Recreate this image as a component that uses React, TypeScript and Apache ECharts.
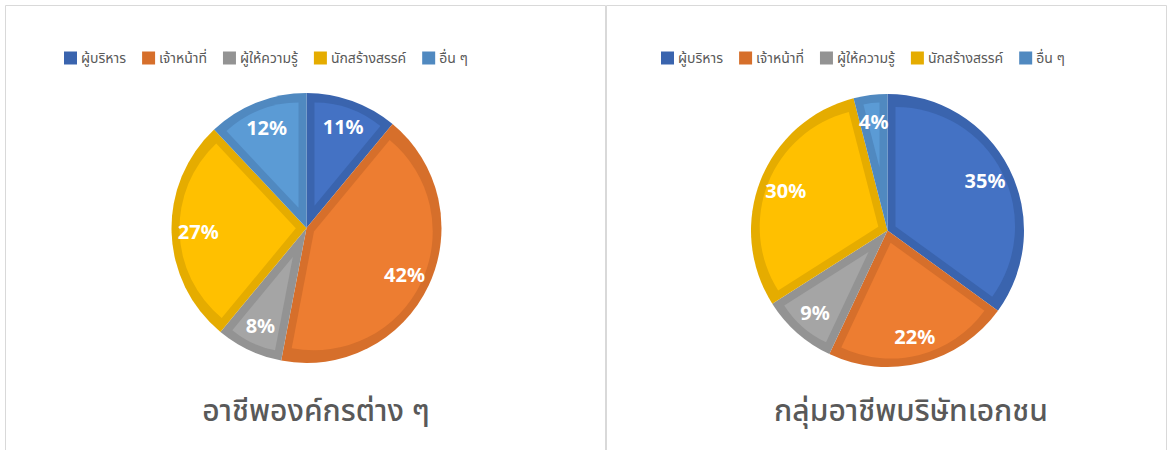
import React, { useEffect, useRef } from "react";
import * as echarts from "echarts";

const categories = ["ผู้บริหาร", "เจ้าหน้าที่", "ผู้ให้ความรู้", "นักสร้างสรรค์", "อื่น ๆ"];
const orgValues = [11, 42, 8, 27, 12];
const privateValues = [35, 22, 9, 30, 4];
const chartTitles = ["อาชีพองค์กรต่าง ๆ", "กลุ่มอาชีพบริษัทเอกชน"];

const fillColors = ["#4472C4", "#ED7D31", "#A5A5A5", "#FFC000", "#5B9BD5"];
const edgeColors = ["#3A64AE", "#D66F2B", "#939393", "#E5AC00", "#5089C0"];

const THAI_FONT = "'Noto Sans Thai', 'Noto Sans', 'DejaVu Sans', sans-serif";
const BAND = 8;

function buildPie(values: number[], cx: number, cy: number, R: number, key: string) {
  const total = values.reduce((a, b) => a + b, 0);
  const series: any[] = [];
  series.push({
    type: "pie",
    id: key + "-base",
    center: [cx, cy],
    radius: R,
    startAngle: 90,
    clockwise: true,
    silent: true,
    z: 1,
    label: { show: false },
    labelLine: { show: false },
    data: categories.map((n, i) => ({ name: n, value: values[i], itemStyle: { color: edgeColors[i] } })),
  });
  let cum = 0;
  values.forEach((v, i) => {
    const startFrac = cum / total;
    const frac = v / total;
    cum += v;
    const half = frac * Math.PI;
    const phi = (startFrac + frac / 2) * 2 * Math.PI;
    const shift = BAND / Math.sin(Math.min(half, Math.PI / 2));
    series.push({
      type: "pie",
      id: key + "-inner-" + i,
      center: [cx + shift * Math.sin(phi), cy - shift * Math.cos(phi)],
      radius: Math.max(R - BAND - shift, 1),
      startAngle: 90 - startFrac * 360,
      clockwise: true,
      silent: true,
      z: 2,
      label: { show: false },
      labelLine: { show: false },
      data: [
        { name: categories[i], value: v, itemStyle: { color: fillColors[i] } },
        { name: "", value: total - v, itemStyle: { color: "rgba(0,0,0,0)" } },
      ],
    });
  });
  series.push({
    type: "pie",
    id: key + "-labels",
    center: [cx, cy],
    radius: [R * 0.56, R],
    startAngle: 90,
    clockwise: true,
    silent: true,
    z: 3,
    itemStyle: { color: "rgba(0,0,0,0)" },
    label: {
      show: true,
      position: "inside",
      formatter: (p: any) => Math.round(p.percent) + "%",
      color: "#ffffff",
      fontWeight: "bold",
      fontSize: 20,
      fontFamily: "'Noto Sans', sans-serif",
    },
    labelLine: { show: false },
    data: categories.map((n, i) => ({ name: n, value: values[i] })),
  });
  return series;
}

export default function App() {
  const ref = useRef<HTMLDivElement>(null);
  useEffect(() => {
    if (!ref.current) return;
    const chart = echarts.init(ref.current, null, { renderer: "svg" });
    const legendBase = {
      data: categories.map((n, i) => ({ name: n, itemStyle: { color: edgeColors[i] } })),
      icon: "rect",
      itemWidth: 13,
      itemHeight: 13,
      itemGap: 16,
      selectedMode: false,
      textStyle: { fontSize: 14, color: "#595959", fontFamily: THAI_FONT, padding: [0, 0, 0, -1] },
    };
    const titleFont = "500 30px " + THAI_FONT;
    chart.setOption({
      animation: false,
      backgroundColor: "#ffffff",
      legend: [
        { ...legendBase, left: 59, top: 46 },
        { ...legendBase, left: 656, top: 46 },
      ],
      graphic: [
        { type: "rect", shape: { x: 5.5, y: 5.5, width: 600, height: 460 }, style: { fill: "none", stroke: "#d9d9d9", lineWidth: 1 }, silent: true },
        { type: "rect", shape: { x: 606.5, y: 5.5, width: 560, height: 460 }, style: { fill: "none", stroke: "#d9d9d9", lineWidth: 1 }, silent: true },
        { type: "text", x: 316, y: 412, style: { text: chartTitles[0], fill: "#595959", font: titleFont, textAlign: "center", textVerticalAlign: "middle" }, silent: true },
        { type: "text", x: 911, y: 412, style: { text: chartTitles[1], fill: "#595959", font: titleFont, textAlign: "center", textVerticalAlign: "middle" }, silent: true },
      ],
      series: [
        ...buildPie(orgValues, 306.5, 228, 135, "org"),
        ...buildPie(privateValues, 887.5, 230.5, 136.5, "pri"),
      ],
    });
    return () => chart.dispose();
  }, []);
  return <div ref={ref} style={{ position: "fixed", left: 0, top: 0, width: 1171, height: 450 }} />;
}
